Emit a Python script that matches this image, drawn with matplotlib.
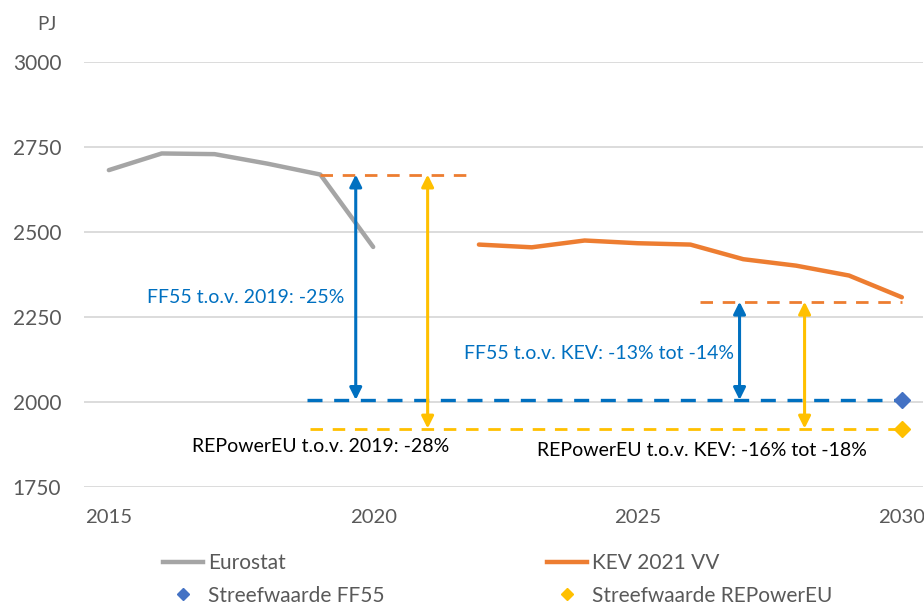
import matplotlib
matplotlib.use("Agg")
import matplotlib.pyplot as plt
from matplotlib.lines import Line2D

# ---- data ----
years_eurostat = [2015, 2016, 2017, 2018, 2019, 2020]
eurostat = [2682, 2731, 2729, 2701, 2669, 2456]
years_kev = [2022, 2023, 2024, 2025, 2026, 2027, 2028, 2029, 2030]
kev = [2463, 2455, 2475, 2467, 2463, 2420, 2401, 2372, 2308]
target_year = 2030
target_ff55 = 2006
target_repower = 1922
ref_2019 = 2669
ref_kev = 2295
yticks = [1750, 2000, 2250, 2500, 2750, 3000]
xticks = [2015, 2020, 2025, 2030]

FONT = ["Lato", "DejaVu Sans"]
plt.rcParams['font.family'] = FONT

GRAY = "#A5A5A5"
ORANGE = "#ED7D31"
BLUE = "#0070C0"
BLUE_D = "#4472C4"
YELLOW = "#FFC000"
TXT = "#595959"

fig = plt.figure(figsize=(9.24, 6.06), dpi=100)
ax = fig.add_axes([84/924, 1-487/606, (923-84)/924, (487-62)/606])
ax.set_xlim(2014.53, 2030.40)
ax.set_ylim(1750, 3000)
for s in ax.spines.values():
    s.set_visible(False)
ax.set_yticks(yticks)
ax.set_xticks(xticks)
ax.tick_params(length=0, labelsize=15, colors=TXT)
ax.tick_params(axis='y', pad=16.4)
ax.tick_params(axis='x', pad=16, labelsize=14.6)
ax.grid(axis='y', color="#D9D9D9", linewidth=1.3)
ax.set_axisbelow(True)

ax.plot(years_eurostat, eurostat, color=GRAY, lw=3.2, solid_capstyle='round')
ax.plot(years_kev, kev, color=ORANGE, lw=3.2, solid_capstyle='round')

# reference dashed lines
ax.plot([2019, 2021.82], [ref_2019, ref_2019], color=ORANGE, lw=2, dashes=(4.5, 3.5))
ax.plot([2026.18, 2030], [ref_kev, ref_kev], color=ORANGE, lw=2, dashes=(4.5, 3.5))
ax.plot([2018.75, 2030], [target_ff55, target_ff55], color=BLUE, lw=2.4, dashes=(4.5, 3.5))
ax.plot([2018.8, 2030], [target_repower, target_repower], color=YELLOW, lw=2, dashes=(4.5, 3.5))

ax.plot([target_year], [target_ff55], marker='D', color=BLUE_D, ms=8, ls='none', zorder=5)
ax.plot([target_year], [target_repower], marker='D', color=YELLOW, ms=8, ls='none', zorder=5)

def darrow(x, y0, y1, c):
    ax.annotate('', xy=(x, y1), xytext=(x, y0),
                arrowprops=dict(arrowstyle='<|-|>', color=c, lw=2.2,
                                mutation_scale=18, shrinkA=0, shrinkB=0))

darrow(2019.67, target_ff55, ref_2019, BLUE)
darrow(2021.03, target_repower, ref_2019, YELLOW)
darrow(2026.93, target_ff55, ref_kev, BLUE)
darrow(2028.16, target_repower, ref_kev, YELLOW)

tk = dict(fontsize=14, va='center')
ax.text(2019.46, 2307, "FF55 t.o.v. 2019: -25%", color=BLUE, ha='right', **tk)
ax.text(2016.57, 1868, "REPowerEU t.o.v. 2019: -28%", color="black", ha='left', **tk)
ax.text(2026.83, 2142, "FF55 t.o.v. KEV: -13% tot -14%", color=BLUE, ha='right', **tk)
ax.text(2029.33, 1856, "REPowerEU t.o.v. KEV: -16% tot -18%", color="black", ha='right', **tk)

fig.text(47/924, 1-25/606, "PJ", color=TXT, fontsize=13.5, ha='center', va='center')

# legend (two columns)
h_euro = Line2D([], [], color=GRAY, lw=3.2)
h_kev = Line2D([], [], color=ORANGE, lw=3.2)
h_ff = Line2D([], [], color=BLUE_D, marker='D', ls='none', ms=6.5)
h_rep = Line2D([], [], color=YELLOW, marker='D', ls='none', ms=6.5)
lk = dict(frameon=False, fontsize=15, labelcolor=TXT, handlelength=1.92,
          handletextpad=0.24, borderpad=0, borderaxespad=0, labelspacing=0.6,
          loc='upper left')
leg1 = fig.legend([h_euro, h_ff], ["Eurostat", "Streefwaarde FF55"],
                  bbox_to_anchor=(163/924, 1-553/606), **lk)
leg2 = fig.legend([h_kev, h_rep], ["KEV 2021 VV", "Streefwaarde REPowerEU"],
                  bbox_to_anchor=(547/924, 1-553/606), **lk)

fig.savefig("out.png", dpi=100, facecolor="white")
